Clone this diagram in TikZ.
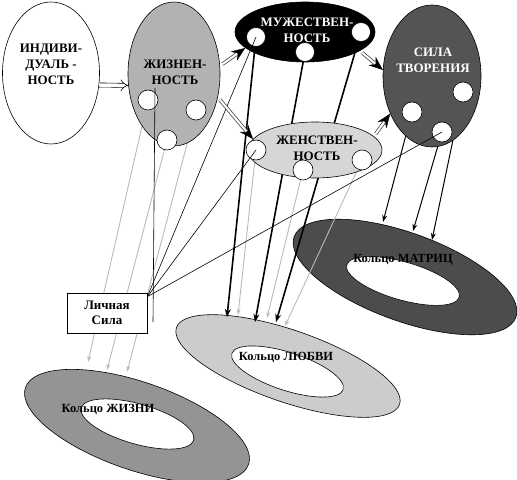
\documentclass[tikz,border=0pt]{standalone}
\usepackage{fontspec}
\setmainfont{Liberation Serif}
\usepackage{tikz}
\usetikzlibrary{%
  arrows.meta%
  ,shapes.geometric%
}
\pgfdeclarelayer{rings}
\pgfdeclarelayer{lines}
\pgfsetlayers{rings,lines,main}

\begin{document}
\begin{tikzpicture}[x=1bp,y=-1bp,
    blob/.style={draw,ellipse,line width=.6pt,inner sep=0pt},
    dot/.style={draw,circle,fill=white,minimum size=20bp,inner sep=0pt,line width=.6pt},
    ttl/.style={font=\fontsize{13}{16}\selectfont\bfseries,align=center,inner sep=0pt},
    ringout/.style={draw,ellipse,line width=.6pt,inner sep=0pt,minimum width=236bp},
    ringin/.style={draw,ellipse,fill=white,line width=.6pt,inner sep=0pt,minimum width=117bp},
    rlbl/.style={font=\fontsize{12.5}{15}\selectfont\bfseries,inner sep=0pt},
    hollow/.style={double,double distance=3.5pt,line width=.6pt,-Implies},
    fatshaft/.style={draw=gray!60!black,double=white,double distance=2pt,line width=.8pt,
      shorten <=3bp,shorten >=10bp},
    fathead/.style={draw=black,line width=.4pt,shorten <=3bp,
      -{Stealth[length=14bp,width=11bp]}},
    grayarr/.style={draw=gray!55,line width=.9pt,-{Stealth[length=6bp,width=4bp]}},
    boldarr/.style={line width=1.6pt,-{Stealth[length=8bp,width=6bp]}},
    matarr/.style={line width=1pt,-{Stealth[length=7bp,width=5bp,open]}},
    tie/.style={line width=.6pt}]
      \useasboundingbox (0,0) rectangle (517,480);

      %% rings
      \begin{pgfonlayer}{rings}
      \node[ringout,fill=black!42,minimum height=88bp,rotate=-19] (rjiz) at (137,426) {};
      \node[ringin,minimum height=40bp,rotate=-16] (rjiz-h) at (137.5,424) {};
      \node[ringout,fill=black!20,minimum height=72bp,rotate=-19] (rlub) at (288,366) {};
      \node[ringin,minimum height=38bp,rotate=-18] (rlub-h) at (287.5,371.5) {};
      \node[ringout,fill=black!70,minimum height=88bp,rotate=-20] (rmat) at (405,277) {};
      \node[ringin,minimum height=38bp,rotate=-16] (rmat-h) at (403,281) {};
      \end{pgfonlayer}
      \node[rlbl] (rjiz-t) at (108,409) {Кольцо ЖИЗНИ};
      \node[rlbl] (rlub-t) at (286,357) {Кольцо ЛЮБВИ};
      \node[rlbl] (rmat-t) at (403,260) {Кольцо МАТРИЦ};

      %% big ellipses
      \node[blob,minimum width=97bp,minimum height=142bp] (ind) at (51,73) {};
      \node[blob,fill=black!30,minimum width=92bp,minimum height=144bp] (zh) at (174,74) {};
      \node[blob,fill=black,minimum width=140bp,minimum height=60bp] (mu) at (305,32) {};
      \node[blob,fill=black!67,minimum width=98bp,minimum height=142bp] (sila) at (432,76) {};
      \node[blob,fill=black!16,minimum width=134bp,minimum height=56bp] (fem) at (315,150) {};

      \node[ttl] (ind-t) at (51,64) {ИНДИВИ-\\ДУАЛЬ -\\НОСТЬ};
      \node[ttl] (zh-t) at (175,72) {ЖИЗНЕН-\\НОСТЬ};
      \node[ttl,text=white] (mu-t) at (307,30) {МУЖЕСТВЕН-\\НОСТЬ};
      \node[ttl,text=white] (sila-t) at (433,60) {СИЛА\\ТВОРЕНИЯ};
      \node[ttl] (fem-t) at (317,148) {ЖЕНСТВЕН-\\НОСТЬ};

      %% small circles
      \node[dot] (zc1) at (148,100) {};
      \node[dot] (zc2) at (196,110) {};
      \node[dot] (zc3) at (167,140) {};
      \node[dot,minimum size=19bp] (mc1) at (256,37) {};
      \node[dot,minimum size=19bp] (mc2) at (305,52) {};
      \node[dot,minimum size=19bp] (mc3) at (361,32) {};
      \node[dot] (fc1) at (256,150) {};
      \node[dot] (fc2) at (303,170) {};
      \node[dot] (fc3) at (362,160) {};
      \node[dot] (sc1) at (463,92) {};
      \node[dot] (sc2) at (412,112) {};
      \node[dot] (sc3) at (442,132) {};

      \node[draw,fill=white,line width=.6pt,minimum width=80bp,minimum height=40bp,
        align=center,inner sep=0pt,font=\fontsize{13}{15}\selectfont\bfseries] (lichn) at (107,313) {Личная\\Сила};

      %% arrow ends on the rings
      \coordinate (j1) at (88,362);
      \coordinate (j2) at (107,370);
      \coordinate (j3) at (127,372);
      \coordinate (l1) at (238,315);
      \coordinate (l2) at (267,318);
      \coordinate (l3) at (285,326);
      \coordinate (l4) at (227,317);
      \coordinate (l5) at (255,322);
      \coordinate (l6) at (276,322);
      \coordinate (m1) at (383,222);
      \coordinate (m2) at (413,231);
      \coordinate (m3) at (432,240);
      \coordinate (v1) at (155,88);
      \coordinate (v2) at (153,322);

      \begin{pgfonlayer}{lines}
      \draw[grayarr] (zc1.center) -- (j1);
      \draw[grayarr] (zc3.center) -- (j2);
      \draw[grayarr] (zc2.center) -- (j3);
      \draw[grayarr] (fc1.center) -- (l1);
      \draw[grayarr] (fc2.center) -- (l2);
      \draw[grayarr] (fc3.center) -- (l3);
      \draw[boldarr] (mc1.center) -- (l4);
      \draw[boldarr] (mc2.center) -- (l5);
      \draw[boldarr] (mc3.center) -- (l6);
      \draw[matarr] (sc2.center) -- (m1);
      \draw[matarr] (sc3.center) -- (m2);
      \draw[matarr] (sc1.center) -- (m3);
      \end{pgfonlayer}

      %% to the personal force
      \draw[tie] (mc1.center) -- ([yshift=-4bp]lichn.north east);
      \draw[tie] (fc1.center) -- ([yshift=-4bp]lichn.north east);
      \draw[tie] (sc3.center) -- ([yshift=-4bp]lichn.north east);
      \draw[tie] (v1) -- (v2);

      %% flow between the ellipses
      \draw[hollow] (ind.-14) -- (zh.194);
      \draw[fathead] (zh.10) -- (mu.195);
      \draw[fatshaft] (zh.10) -- (mu.195);
      \draw[fathead] (zh.-28) -- (fem.170);
      \draw[fatshaft] (zh.-28) -- (fem.170);
      \draw[fathead] (mu.-19) -- (sila.173);
      \draw[fatshaft] (mu.-19) -- (sila.173);
      \draw[fathead] (fem.13) -- (sila.222);
      \draw[fatshaft] (fem.13) -- (sila.222);
    \end{tikzpicture}
\end{document}
